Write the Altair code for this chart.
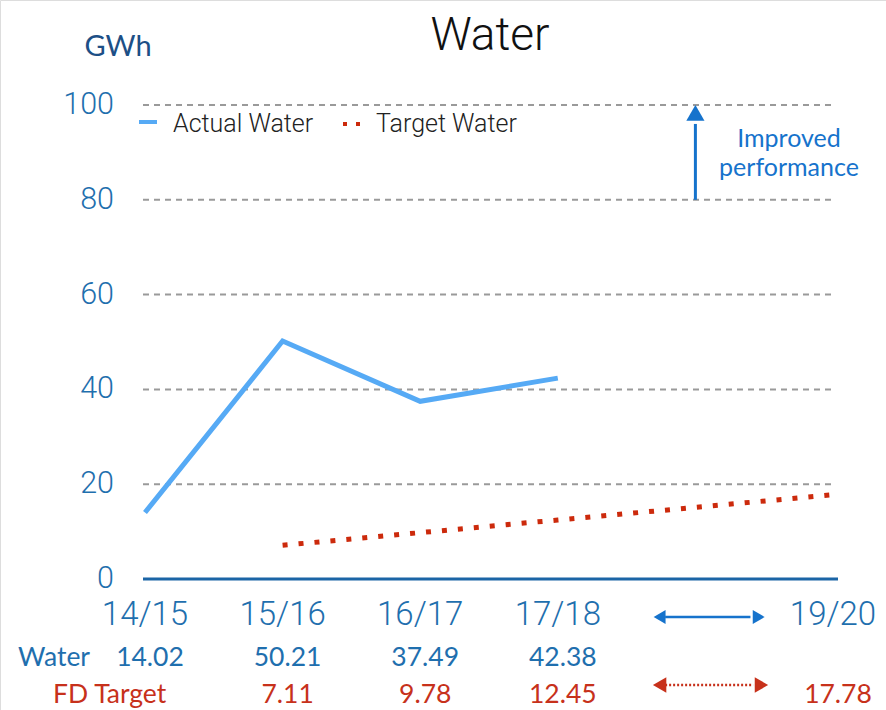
import altair as alt
import pandas as pd

# Financial years on the x axis (18/19 has no label; the arrows sit there)
years = ["14/15", "15/16", "16/17", "17/18", "18/19", "19/20"]
year_labels = ["14/15", "15/16", "16/17", "17/18", "", "19/20"]
water = [14.02, 50.21, 37.49, 42.38, None, None]
target = [None, 7.11, 9.78, 12.45, None, 17.78]
y_ticks = [0, 20, 40, 60, 80, 100]
grid_ticks = [20, 40, 60, 80, 100]

idx = list(range(len(years)))

X_SCALE = alt.Scale(domain=[0, 5], range=[145, 833])
Y_SCALE = alt.Scale(domain=[0, 100], range=[579, 105])

BLUE_TXT = "#1f6fae"
RED_TXT = "#c7311b"
LINE_BLUE = "#56aaf5"
LINE_RED = "#cc2a0c"
ARROW_BLUE = "#1673cc"

series = pd.DataFrame({"idx": idx, "year": years, "water": water, "target": target})
water_df = series.dropna(subset=["water"])
target_df = series.dropna(subset=["target"])

x_enc = alt.X("idx:Q", scale=X_SCALE, axis=None)

grid = alt.Chart(pd.DataFrame({"v": grid_ticks})).mark_rule(
    color="#9a9a9a", strokeWidth=2, strokeDash=[6, 5]
).encode(x=alt.value(143), x2=alt.value(833), y=alt.Y("v:Q", scale=Y_SCALE, axis=None))

zero = alt.Chart(pd.DataFrame({"v": [0]})).mark_rule(
    color="#1b65a6", strokeWidth=3
).encode(x=alt.value(143), x2=alt.value(838), y=alt.Y("v:Q", scale=Y_SCALE, axis=None))

y_labels = alt.Chart(pd.DataFrame({"v": y_ticks})).mark_text(
    align="right", baseline="middle", font="Roboto", fontWeight=300, fontSize=30.5, color=BLUE_TXT
).encode(x=alt.value(114), y=alt.Y("v:Q", scale=Y_SCALE, axis=None), text="v:Q")

water_line = alt.Chart(water_df).mark_line(
    color=LINE_BLUE, strokeWidth=5, strokeJoin="miter"
).encode(x=x_enc, y=alt.Y("water:Q", scale=Y_SCALE, axis=None))

target_line = alt.Chart(target_df).mark_line(
    color=LINE_RED, strokeWidth=5, strokeDash=[5, 11]
).encode(x=x_enc, y=alt.Y("target:Q", scale=Y_SCALE, axis=None))

x_labels = alt.Chart(pd.DataFrame({"idx": idx, "lab": year_labels})).mark_text(
    align="center", baseline="middle", font="Roboto", fontWeight=300, fontSize=33, color=BLUE_TXT
).encode(x=x_enc, y=alt.value(615), text="lab:N")

water_row = alt.Chart(water_df).mark_text(
    align="center", baseline="middle", font="Lato", fontSize=26.5, color=BLUE_TXT, dx=5
).encode(x=x_enc, y=alt.value(658), text=alt.Text("water:Q", format=".2f"))

target_row = alt.Chart(target_df).mark_text(
    align="center", baseline="middle", font="Lato", fontSize=26.5, color=RED_TXT, dx=5
).encode(x=x_enc, y=alt.value(695), text=alt.Text("target:Q", format=".2f"))

row_names = alt.Chart(pd.DataFrame({"t": ["Water", "FD Target"], "x": [18, 53], "y": [658, 695],
                                    "c": [BLUE_TXT, RED_TXT]})).mark_text(
    align="left", baseline="middle", font="Lato", fontSize=26.5
).encode(x=alt.X("x:Q", scale=None), y=alt.Y("y:Q", scale=None), text="t:N",
         color=alt.Color("c:N", scale=None))

# legend
legend_lines = alt.Chart(pd.DataFrame({"a": [139], "b": [157]})).mark_rule(
    color=LINE_BLUE, strokeWidth=4
).encode(x=alt.X("a:Q", scale=None), x2="b:Q", y=alt.value(122))
legend_dots = alt.Chart(pd.DataFrame({"a": [343], "b": [360]})).mark_rule(
    color=LINE_RED, strokeWidth=4, strokeDash=[4, 9]
).encode(x=alt.X("a:Q", scale=None), x2="b:Q", y=alt.value(124))
legend_text = alt.Chart(pd.DataFrame({"t": ["Actual Water", "Target Water"], "x": [173, 376]})).mark_text(
    align="left", baseline="middle", font="Roboto", fontWeight=300, fontSize=25, color="#222222"
).encode(x=alt.X("x:Q", scale=None), y=alt.value(124), text="t:N")

# "Improved performance" arrow between the 80 and 100 gridlines at 18/19
perf = pd.DataFrame({"idx": [4], "lo": [80], "hi": [96]})
perf_shaft = alt.Chart(perf).mark_rule(color=ARROW_BLUE, strokeWidth=3).encode(
    x=x_enc, y=alt.Y("lo:Q", scale=Y_SCALE, axis=None), y2="hi:Q")
perf_head = alt.Chart(perf).mark_point(
    shape="triangle-up", filled=True, color=ARROW_BLUE, size=330, opacity=1, yOffset=-11
).encode(x=x_enc, y=alt.Y("hi:Q", scale=Y_SCALE, axis=None))
perf_text = alt.Chart(pd.DataFrame({"t": ["Improved", "performance"], "y": [139, 168]})).mark_text(
    align="center", baseline="middle", font="Lato", fontSize=25, color=ARROW_BLUE
).encode(x=alt.value(789), y=alt.Y("y:Q", scale=None), text="t:N")

# horizontal double arrows in the 18/19 slot
arr = pd.DataFrame({"a": [3.78, 3.78], "b": [4.4, 4.42], "y": [617, 685], "row": ["w", "t"]})
blue_arr = arr[arr.row == "w"]
red_arr = arr[arr.row == "t"]
blue_shaft = alt.Chart(blue_arr).mark_rule(color=ARROW_BLUE, strokeWidth=2.5).encode(
    x=alt.X("a:Q", scale=X_SCALE, axis=None), x2="b:Q", y=alt.Y("y:Q", scale=None))
red_shaft = alt.Chart(red_arr).mark_rule(color=RED_TXT, strokeWidth=2.5, strokeDash=[2, 2]).encode(
    x=alt.X("a:Q", scale=X_SCALE, axis=None), x2="b:Q", y=alt.Y("y:Q", scale=None))

heads = pd.DataFrame({
    "x": [3.74, 4.46, 3.74, 4.48],
    "y": [617, 617, 685, 685],
    "shape": ["triangle-left", "triangle-right", "triangle-left", "triangle-right"],
    "c": [ARROW_BLUE, ARROW_BLUE, RED_TXT, RED_TXT],
    "s": [190, 190, 240, 240],
})
arrow_heads = alt.Chart(heads).mark_point(filled=True, opacity=1).encode(
    x=alt.X("x:Q", scale=X_SCALE, axis=None), y=alt.Y("y:Q", scale=None),
    shape=alt.Shape("shape:N", scale=None), color=alt.Color("c:N", scale=None),
    size=alt.Size("s:Q", scale=None))

title = alt.Chart(pd.DataFrame({"t": ["Water"]})).mark_text(
    align="center", baseline="middle", font="Roboto", fontWeight=300, fontSize=46, color="#111111"
).encode(x=alt.value(490), y=alt.value(36), text="t:N")
unit = alt.Chart(pd.DataFrame({"t": ["GWh"]})).mark_text(
    align="center", baseline="middle", font="Lato", fontSize=29, color="#1d4f86"
).encode(x=alt.value(118), y=alt.value(47), text="t:N")

chart = alt.layer(
    grid, zero, y_labels, water_line, target_line, x_labels, water_row, target_row, row_names,
    legend_lines, legend_dots, legend_text, perf_shaft, perf_head, perf_text,
    blue_shaft, red_shaft, arrow_heads, title, unit,
).properties(
    width=886, height=710, autosize=alt.AutoSizeParams(type="none"), padding=0,
).configure_view(stroke=None).configure(background="white")

chart.save("out.html", embed_options={"renderer": "svg", "actions": False})
